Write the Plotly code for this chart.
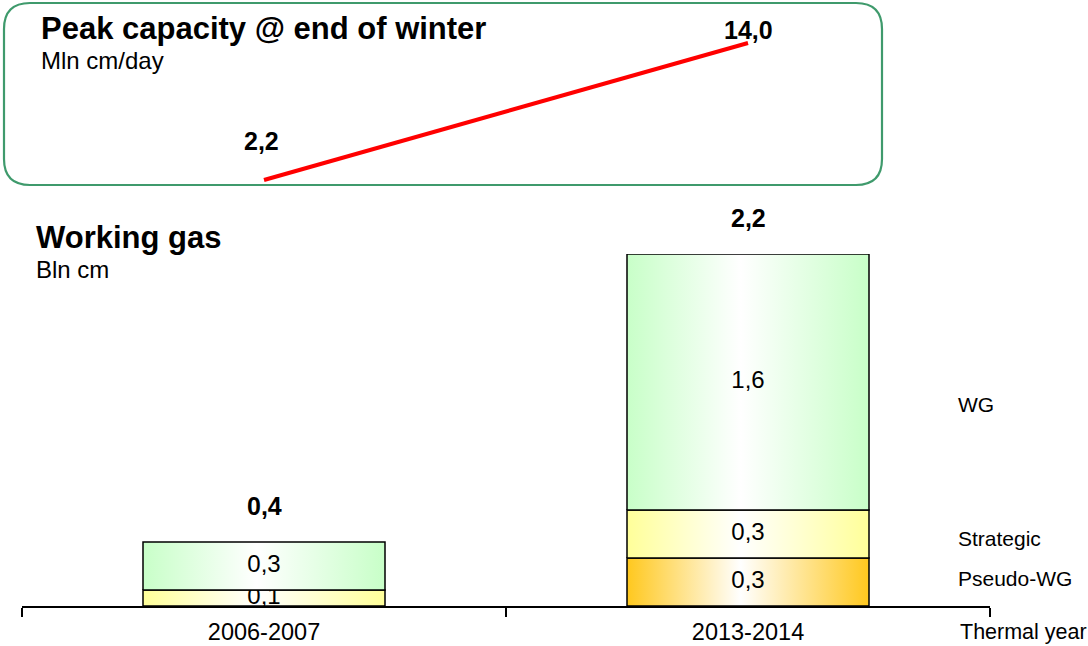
import plotly.graph_objects as go

# ---- data ----
years = ["2006-2007", "2013-2014"]
pseudo_wg = [0.0, 0.3]     # Bln cm
strategic = [0.1, 0.3]     # Bln cm
wg = [0.3, 1.6]            # Bln cm
totals = [0.4, 2.2]        # Bln cm
peak_capacity = [2.2, 14.0]  # Mln cm/day
series_names = ["Pseudo-WG", "Strategic", "WG"]

W, H = 1088, 646
FONT = "Liberation Sans, Arial, sans-serif"


def fmt(v):
    return f"{v:.1f}".replace(".", ",")


def px_x(p):
    return p / W


def px_y(p):
    return 1 - p / H


fig = go.Figure()

# stacked bar segments with horizontal gradient fills
colors = {"Pseudo-WG": "#ffc81e", "Strategic": "#ffff99", "WG": "#c8ffc8"}
stack = {"Pseudo-WG": pseudo_wg, "Strategic": strategic, "WG": wg}
bar_w = 0.5
for i, yr in enumerate(years):
    base = 0.0
    for name in series_names:
        v = stack[name][i]
        if v <= 0:
            continue
        x0, x1 = i - bar_w / 2, i + bar_w / 2
        c = colors[name]
        fig.add_trace(go.Scatter(
            x=[x0, x1, x1, x0, x0], y=[base, base, base + v, base + v, base],
            mode="lines", fill="toself",
            fillgradient=dict(type="horizontal",
                              colorscale=[[0, c], [0.47, "#ffffff"], [1, c]]),
            line=dict(color="black", width=1.5),
            hoverinfo="skip", showlegend=False, xaxis="x", yaxis="y",
        ))
        fig.add_trace(go.Scatter(
            x=[i], y=[base + v / 2], mode="text", text=[fmt(v)],
            textfont=dict(family=FONT, size=24, color="black"),
            hoverinfo="skip", showlegend=False, xaxis="x", yaxis="y",
        ))
        base += v

# totals above bars
annotations = []
for i, t in enumerate(totals):
    annotations.append(dict(
        x=i, y=t, xref="x", yref="y", text=f"<b>{fmt(t)}</b>",
        showarrow=False, yshift=36, yanchor="middle",
        font=dict(family=FONT, size=25, color="black"),
    ))

# peak capacity line
fig.add_trace(go.Scatter(
    x=[0, 1], y=peak_capacity, mode="lines",
    line=dict(color="#ff0000", width=4),
    hoverinfo="skip", showlegend=False, xaxis="x", yaxis="y2",
))
for i, (v, dy, dx) in enumerate(zip(peak_capacity, [39, 13], [-3, 0])):
    annotations.append(dict(
        x=i, y=v, xref="x", yref="y2", text=f"<b>{fmt(v)}</b>",
        showarrow=False, yshift=dy, xshift=dx, yanchor="middle",
        font=dict(family=FONT, size=25, color="black"),
    ))

# titles and side labels
texts = [
    ("<b>Peak capacity @ end of winter</b>", 39, 29, 31),
    ("Mln cm/day", 39, 61, 24),
    ("<b>Working gas</b>", 34, 237, 31),
    ("Bln cm", 34, 270, 24),
    ("WG", 956, 404, 21),
    ("Strategic", 956, 538, 21),
    ("Pseudo-WG", 956, 578, 21),
    ("Thermal year", 958, 632, 21.5),
]
for txt, x, y, s in texts:
    annotations.append(dict(
        x=px_x(x), y=px_y(y), xref="paper", yref="paper", text=txt,
        showarrow=False, xanchor="left", yanchor="middle",
        font=dict(family=FONT, size=s, color="black"),
    ))

# rounded frame around the peak-capacity panel
x0, x1, y0, y1, r = 4, 882, 3, 185, 26
rx, ry = r / W, r / H
X0, X1, Y0, Y1 = px_x(x0), px_x(x1), px_y(y0), px_y(y1)
path = (f"M {X0 + rx},{Y0} L {X1 - rx},{Y0} Q {X1},{Y0} {X1},{Y0 - ry} "
        f"L {X1},{Y1 + ry} Q {X1},{Y1} {X1 - rx},{Y1} "
        f"L {X0 + rx},{Y1} Q {X0},{Y1} {X0},{Y1 + ry} "
        f"L {X0},{Y0 - ry} Q {X0},{Y0} {X0 + rx},{Y0} Z")
shapes = [dict(type="path", xref="paper", yref="paper", path=path,
               line=dict(color="#3f9a6c", width=2.2), layer="below")]

# axis placement (pixel-based domains)
bar_bottom, bar_top = 606, 254           # pixel rows for 0 and 2.2
line_lo_px, line_hi_px = 180, 43         # pixel rows for 2.2 and 14.0
ppu = (line_lo_px - line_hi_px) / (peak_capacity[1] - peak_capacity[0])
y2_range = [0, 16]
y2_bottom_px = line_lo_px + (peak_capacity[0] - y2_range[0]) * ppu
y2_top_px = line_lo_px - (y2_range[1] - peak_capacity[0]) * ppu

fig.update_layout(
    width=W, height=H,
    margin=dict(l=0, r=0, t=0, b=0),
    paper_bgcolor="white", plot_bgcolor="rgba(0,0,0,0)",
    showlegend=False,
    font=dict(family=FONT, color="black"),
    xaxis=dict(
        domain=[px_x(22), px_x(990)], range=[-0.5, 1.5],
        tickvals=[0, 1], ticktext=years, ticks="", ticklen=0,
        ticklabelstandoff=4,
        tickfont=dict(family=FONT, size=23.5, color="black"),
        showline=True, linecolor="black", linewidth=1.5,
        showgrid=False, zeroline=False, anchor="y",
        minor=dict(tickvals=[-0.5, 0.5, 1.5], ticks="outside", ticklen=9,
                   tickwidth=1.5, tickcolor="black", showgrid=False),
        automargin=False, fixedrange=True,
    ),
    yaxis=dict(
        domain=[px_y(bar_bottom), px_y(bar_top)], range=[0, totals[1]],
        visible=False, fixedrange=True,
    ),
    yaxis2=dict(
        domain=[px_y(y2_bottom_px), px_y(y2_top_px)], range=y2_range,
        visible=False, fixedrange=True, anchor="x",
    ),
    annotations=annotations,
    shapes=shapes,
)

fig.write_html("out.html")
